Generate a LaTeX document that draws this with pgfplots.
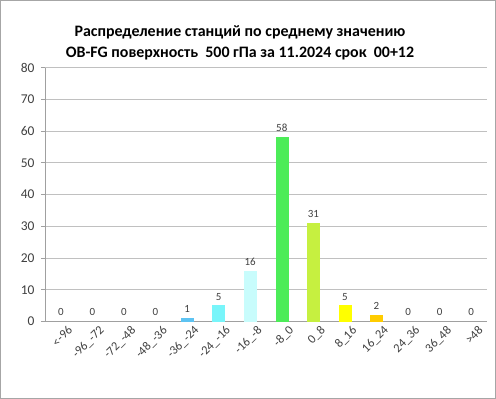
\documentclass[border=0pt]{standalone}
\usepackage{pgfplots}
\pgfplotsset{compat=1.18}
\usepackage{fontspec}
\setmainfont{Carlito}
\definecolor{txt}{HTML}{404040}
\definecolor{gridc}{HTML}{C0C0C0}
\definecolor{axc}{HTML}{A0A0A0}
\definecolor{c1}{HTML}{5DC3F2}
\definecolor{c2}{HTML}{78F5FA}
\definecolor{c3}{HTML}{C8FCFC}
\definecolor{c4}{HTML}{4CEC58}
\definecolor{c5}{HTML}{C6F040}
\definecolor{c6}{HTML}{FFFF00}
\definecolor{c7}{HTML}{FFCC00}
\begin{document}
\begin{tikzpicture}
\useasboundingbox (0,0) rectangle (496bp,399bp);
\draw[gray!70, line width=1bp] (0.5bp,0.5bp) rectangle (495.5bp,398.5bp);
\node[font=\bfseries\fontsize{16}{20.5}\selectfont, align=center, anchor=center] at (240bp,356bp)
  {Распределение станций по среднему значению\\OB-FG поверхность\ \ 500 гПа за 11.2024 срок\ \ 00+12};
\begin{axis}[
  at={(45bp,77.5bp)}, anchor=south west,
  scale only axis, width=442bp, height=254bp,
  xmin=-0.5, xmax=13.5, ymin=0, ymax=80,
  ytick={0,10,...,80},
  /pgf/number format/assume math mode=true,
  ymajorgrids, grid style={gridc, line width=0.8bp},
  axis lines*=left,
  axis line style={axc, line width=0.8bp},
  tick align=outside,
  major tick length=4bp, minor tick length=4bp,
  ytick style={axc, line width=0.8bp},
  xtick={0,...,13},
  xtick style={draw=none},
  minor xtick={-0.5,0.5,...,13.5},
  minor x tick style={axc, line width=0.8bp},
  xticklabels={{<-96},{-96\_-72},{-72\_-48},{-48\_-36},{-36\_-24},{-24\_-16},{-16\_-8},{-8\_0},{0\_8},{8\_16},{16\_24},{24\_36},{36\_48},{>48}},
  x tick label style={rotate=45, anchor=north east, inner sep=1bp, font=\fontsize{12.5}{14}\selectfont, text=txt, xshift=6bp, yshift=-3bp},
  y tick label style={font=\fontsize{13.5}{15}\selectfont, text=txt},
  yticklabel style={xshift=-3bp},
  ybar, bar width=12bp, bar shift=0pt,
  nodes near coords,
  every node near coord/.append style={font=\fontsize{11}{12}\selectfont, text=txt, yshift=2bp},
]
\addplot[draw=none, fill=none] coordinates {(0,0) (1,0) (2,0) (3,0) (11,0) (12,0) (13,0)};
\addplot[fill=c1, draw=c1] coordinates {(4,1)};
\addplot[fill=c2, draw=c2] coordinates {(5,5)};
\addplot[fill=c3, draw=c3] coordinates {(6,16)};
\addplot[fill=c4, draw=c4] coordinates {(7,58)};
\addplot[fill=c5, draw=c5] coordinates {(8,31)};
\addplot[fill=c6, draw=c6] coordinates {(9,5)};
\addplot[fill=c7, draw=c7] coordinates {(10,2)};
\end{axis}
\end{tikzpicture}
\end{document}
